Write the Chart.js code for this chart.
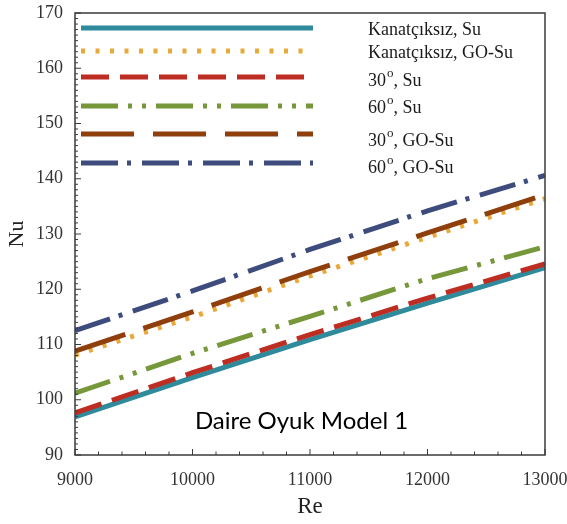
<!DOCTYPE html>
<html>
<head>
<meta charset="utf-8">
<script src="https://cdn.jsdelivr.net/npm/chart.js@4"></script>
<style>
html,body{margin:0;padding:0;background:#fff;}
#wrap{width:567px;height:524px;}
</style>
</head>
<body>
<div id="wrap"><canvas id="c" width="567" height="524"></canvas></div>
<script>
// Data
const reValues = [9000, 10000, 11000, 12000, 13000];
const seriesNames = ["Kanatçıksız, Su", "Kanatçıksız, GO-Su", "30|o|, Su", "60|o|, Su", "30|o|, GO-Su", "60|o|, GO-Su"];
const nuKanatSu   = [96.9, 104.0, 110.9, 117.5, 123.9];
const nuKanatGO   = [108.1, 115.0, 122.4, 129.4, 136.4];
const nu30Su      = [97.6, 104.9, 111.8, 118.4, 124.6];
const nu60Su      = [101.2, 108.4, 115.1, 121.9, 127.7];
const nu30GO      = [108.8, 115.9, 123.2, 130.2, 137.1];
const nu60GO      = [112.5, 119.7, 127.2, 134.2, 140.6];
const xTicks = [9000, 10000, 11000, 12000, 13000];
const yTicks = [90, 100, 110, 120, 130, 140, 150, 160, 170];
const annotationText = "Daire Oyuk Model 1";

const styles = [
  {color:"#2F8A9C", dash:[], order:6},
  {color:"#E9A93A", dash:[4,10.5], order:5},
  {color:"#BE2D22", dash:[28,11], order:1},
  {color:"#77983A", dash:[37,10,4,10,4,10], order:2},
  {color:"#8E3F0C", dash:[53,19], order:3},
  {color:"#3D4C7C", dash:[37,9,4,11], order:4}
];
const seriesValues = [nuKanatSu, nuKanatGO, nu30Su, nu60Su, nu30GO, nu60GO];

const datasets = seriesValues.map((vals, i) => ({
  label: seriesNames[i].replace(/\|/g, ""),
  data: vals.map((v, j) => ({x: reValues[j], y: v})),
  borderColor: styles[i].color,
  backgroundColor: styles[i].color,
  borderDash: styles[i].dash,
  borderWidth: 5,
  borderCapStyle: 'butt',
  pointRadius: 0,
  tension: 0,
  fill: false,
  order: styles[i].order
}));

const serif = "'Liberation Serif', 'Times New Roman', serif";

const decor = {
  id: 'decor',
  afterDraw(chart) {
    const ctx = chart.ctx;
    const ca = chart.chartArea;
    const xs = chart.scales.x, ys = chart.scales.y;
    ctx.save();
    // frame
    ctx.strokeStyle = "#3a3a3a";
    ctx.lineWidth = 1.5;
    ctx.strokeRect(ca.left, ca.top, ca.right - ca.left, ca.bottom - ca.top);
    // inward ticks
    ctx.lineWidth = 1;
    for (let v = xs.min; v <= xs.max; v += 200) {
      const px = xs.getPixelForValue(v);
      const major = (v % 1000) === 0;
      ctx.beginPath();
      ctx.moveTo(px, ca.bottom);
      ctx.lineTo(px, ca.bottom - (major ? 6 : 3.5));
      ctx.stroke();
    }
    for (let v = ys.min; v <= ys.max; v += 1) {
      const py = ys.getPixelForValue(v);
      const major = (v % 10) === 0;
      ctx.beginPath();
      ctx.moveTo(ca.left, py);
      ctx.lineTo(ca.left + (major ? 6 : 3), py);
      ctx.stroke();
    }
    // legend
    const lineYs = [15, 38, 64, 93, 121, 150];
    const textYs = [17, 40, 68, 95, 128, 155];
    const x0 = ca.left + 6, x1 = ca.left + 238, tx = ca.left + 293;
    chart.data.datasets.forEach((ds, i) => {
      const y = ca.top + lineYs[i];
      ctx.save();
      ctx.strokeStyle = ds.borderColor;
      ctx.lineWidth = 5;
      ctx.lineCap = 'butt';
      ctx.setLineDash(ds.borderDash);
      ctx.beginPath();
      ctx.moveTo(x0, y);
      ctx.lineTo(x1, y);
      ctx.stroke();
      ctx.restore();
      // text
      const parts = seriesNames[i].split("|");
      const ty = ca.top + textYs[i];
      ctx.fillStyle = "#1a1a1a";
      ctx.textBaseline = 'middle';
      ctx.textAlign = 'left';
      let cx = tx;
      parts.forEach((p, k) => {
        if (k === 1) {
          ctx.font = "13px " + serif;
          ctx.fillText(p, cx + 1, ty - 7);
          cx += ctx.measureText(p).width + 1;
        } else {
          ctx.font = "18px " + serif;
          ctx.fillText(p, cx, ty);
          cx += ctx.measureText(p).width;
        }
      });
    });
    // annotation
    ctx.font = "24px Lato, 'Open Sans', sans-serif";
    ctx.fillStyle = "#000";
    ctx.textAlign = 'center';
    ctx.textBaseline = 'alphabetic';
    ctx.fillText(annotationText, ca.left + 0.482 * (ca.right - ca.left), 429);
    ctx.restore();
  }
};

new Chart(document.getElementById('c'), {
  type: 'line',
  data: {datasets},
  options: {
    responsive: false,
    animation: false,
    layout: {padding: {top: 13, right: 22, left: 0, bottom: 0}},
    plugins: {legend: {display: false}, tooltip: {enabled: false}},
    scales: {
      x: {
        type: 'linear', min: 9000, max: 13000,
        afterBuildTicks: s => { s.ticks = xTicks.map(v => ({value: v})); },
        afterFit: s => { s.height = 69; s.paddingLeft = 0; s.paddingRight = 0; },
        grid: {display: false, drawTicks: false},
        border: {display: false},
        ticks: {font: {family: serif, size: 18}, color: "#333", padding: 14, maxRotation: 0,
                callback: v => String(v)},
        title: {display: true, text: 'Re', font: {family: serif, size: 23}, color: "#222", padding: {top: 0, bottom: 3}}
      },
      y: {
        type: 'linear', min: 90, max: 170,
        afterBuildTicks: s => { s.ticks = yTicks.map(v => ({value: v})); },
        afterFit: s => { s.width = 75; s.paddingTop = 0; s.paddingBottom = 0; },
        grid: {display: false, drawTicks: false},
        border: {display: false},
        ticks: {font: {family: serif, size: 18}, color: "#333", padding: 12, callback: v => String(v)},
        title: {display: true, text: 'Nu', font: {family: serif, size: 22}, color: "#222", padding: {top: 4, bottom: 0}}
      }
    }
  },
  plugins: [decor]
});
</script>
</body>
</html>
